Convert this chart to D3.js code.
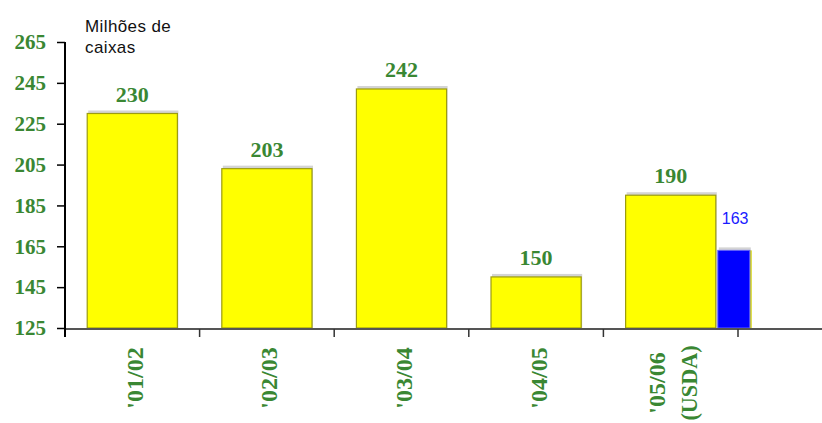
<!DOCTYPE html>
<html>
<head>
<meta charset="utf-8">
<script src="https://cdn.jsdelivr.net/npm/d3@7"></script>
<style>
  html, body { margin: 0; padding: 0; background: #fff; }
  svg { display: block; }
</style>
</head>
<body>
<svg id="chart" width="822" height="423"></svg>
<script>
// Safra de laranja, milhões de caixas
const categories = ["'01/02", "'02/03", "'03/04", "'04/05", "'05/06\n(USDA)"];
const values = [230, 203, 242, 150, 190];
// Estimativa do USDA para a última safra
const usdaCategory = "'05/06\n(USDA)";
const usdaValue = 163;
const yTicks = [125, 145, 165, 185, 205, 225, 245, 265];

const green = "#3a8733";
const svg = d3.select("#chart");

const y = d3.scaleLinear().domain([125, 265]).range([328, 42]);

// one slot per season, ticks fall on the slot edges
const slot = d3.scaleBand().domain(categories).range([65, 738]).padding(0);
const x = slot.copy().paddingInner(0.33).paddingOuter(0.165);

// bars: light shadow, then fill
const data = categories.map((c, i) => ({ c, v: values[i] }));

svg.append("g").selectAll("rect").data(data).join("rect")
  .attr("x", d => x(d.c) + 1)
  .attr("y", d => y(d.v) - 3)
  .attr("width", x.bandwidth())
  .attr("height", d => y(125) - y(d.v) + 3)
  .attr("fill", "#d4d4d4");

svg.append("g").selectAll("rect").data(data).join("rect")
  .attr("x", d => x(d.c))
  .attr("y", d => y(d.v))
  .attr("width", x.bandwidth())
  .attr("height", d => y(125) - y(d.v))
  .attr("fill", "#ffff00")
  .attr("stroke", "#9c9c10")
  .attr("stroke-width", 1.2);

// USDA bar next to the last season
const bx = x(usdaCategory) + x.bandwidth() + 2;
const bw = 32;
svg.append("rect")
  .attr("x", bx + 1).attr("y", y(usdaValue) - 3)
  .attr("width", bw).attr("height", y(125) - y(usdaValue) + 3)
  .attr("fill", "#d4d4d4");
svg.append("rect")
  .attr("x", bx + 2).attr("y", y(usdaValue))
  .attr("width", bw).attr("height", y(125) - y(usdaValue))
  .attr("fill", "#d8d820");
svg.append("rect")
  .attr("x", bx).attr("y", y(usdaValue))
  .attr("width", bw).attr("height", y(125) - y(usdaValue))
  .attr("fill", "#0000ff")
  .attr("stroke", "#6060ff")
  .attr("stroke-width", 1);

// value labels
svg.append("g").selectAll("text").data(data).join("text")
  .attr("x", d => x(d.c) + x.bandwidth() / 2)
  .attr("y", d => y(d.v) - 12)
  .attr("text-anchor", "middle")
  .attr("font-family", "Liberation Serif, Times New Roman, serif")
  .attr("font-weight", "bold")
  .attr("font-size", 22)
  .attr("fill", green)
  .text(d => d.v);

svg.append("text")
  .attr("x", bx + 4)
  .attr("y", y(usdaValue) - 26)
  .attr("font-family", "Liberation Sans, Arial, sans-serif")
  .attr("font-size", 16)
  .attr("fill", "#1a1aff")
  .text(usdaValue);

// x axis line and slot ticks
svg.append("line")
  .attr("x1", 65).attr("x2", 822)
  .attr("y1", 329).attr("y2", 329)
  .attr("stroke", "#555").attr("stroke-width", 2);

svg.append("g").selectAll("line").data(categories.slice(1).concat(["end"])).join("line")
  .attr("x1", d => d === "end" ? slot.range()[1] : slot(d))
  .attr("x2", d => d === "end" ? slot.range()[1] : slot(d))
  .attr("y1", 329).attr("y2", 337)
  .attr("stroke", "#333").attr("stroke-width", 1.5);

// y axis
const yAxis = d3.axisLeft(y).tickValues(yTicks).tickSize(8).tickPadding(11);
const gy = svg.append("g").attr("transform", "translate(65,0)").call(yAxis);
gy.select(".domain").remove();
gy.selectAll(".tick line").attr("stroke", "#000").attr("stroke-width", 1.5);
gy.selectAll(".tick text")
  .attr("font-family", "Liberation Serif, Times New Roman, serif")
  .attr("font-weight", "bold")
  .attr("font-size", 21)
  .attr("fill", green);
svg.append("line")
  .attr("x1", 65).attr("x2", 65)
  .attr("y1", 42).attr("y2", 337)
  .attr("stroke", "#000").attr("stroke-width", 2);

// rotated season labels (narrow, as in the printed tables)
const lab = svg.append("g").selectAll("g").data(categories).join("g")
  .attr("transform", d => {
    const multi = d.includes("\n");
    return `translate(${slot(d) + slot.bandwidth() / 2 + 2},${multi ? 383 : 378}) rotate(-90)`;
  });
lab.each(function (d) {
  const lines = d.split("\n");
  const g = d3.select(this);
  lines.forEach((t, i) => {
    const txt = g.append("text")
      .attr("x", 0)
      .attr("y", (i - (lines.length - 1) / 2) * 32)
      .attr("dy", "0.35em")
      .attr("text-anchor", "middle")
      .attr("font-family", "Liberation Serif, Times New Roman, serif")
      .attr("font-weight", "bold")
      .attr("font-size", 24)
      .attr("fill", green)
      .text(t);
    if (t.startsWith("(")) {
      txt.attr("textLength", 75).attr("lengthAdjust", "spacingAndGlyphs");
    }
  });
});

// unit note
const unit = svg.append("text")
  .attr("font-family", "Liberation Sans, Arial, sans-serif")
  .attr("font-size", 17)
  .attr("letter-spacing", 0.4)
  .attr("fill", "#111");
unit.append("tspan").attr("x", 85).attr("y", 32).text("Milhões de");
unit.append("tspan").attr("x", 85).attr("y", 53).text("caixas");
</script>
</body>
</html>
